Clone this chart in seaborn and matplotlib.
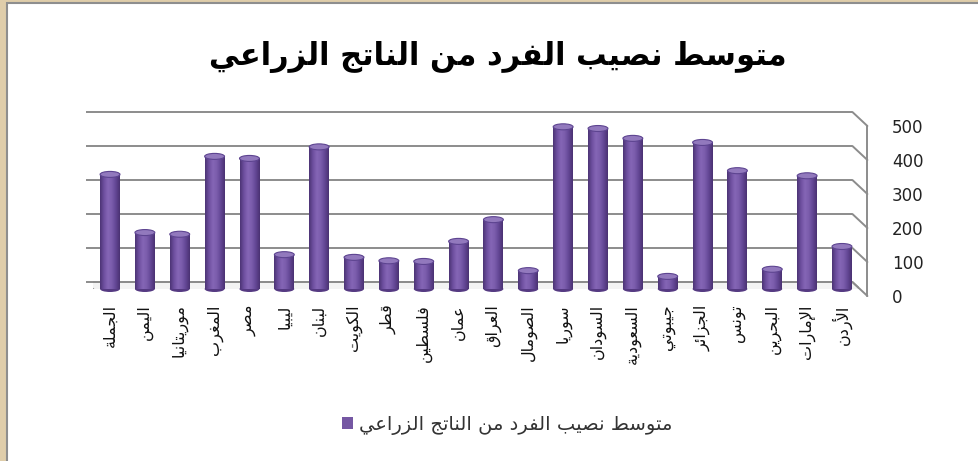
import matplotlib
matplotlib.use("Agg")
import matplotlib.pyplot as plt
import matplotlib.transforms as mtrans
from matplotlib.patches import Rectangle, Polygon, Ellipse
from matplotlib.colors import LinearSegmentedColormap
import numpy as np
import pandas as pd
import seaborn as sns

# ---- data -------------------------------------------------------------
title_text = "متوسط نصيب الفرد من الناتج الزراعي"
series_name = "متوسط نصيب الفرد من الناتج الزراعي"
countries = ["الجملة", "اليمن", "موريتانيا", "المغرب", "مصر", "ليبيا", "لبنان",
             "الكويت", "قطر", "فلسطين", "عمان", "العراق", "الصومال", "سوريا",
             "السودان", "السعودية", "جيبوتي", "الجزائر", "تونس", "البحرين",
             "الإمارات", "الأردن"]
values = [337, 166, 161, 390, 384, 101, 418, 93, 83, 81, 140, 204, 54, 477,
          472, 443, 37, 431, 348, 58, 333, 125]
y_ticks = [0, 100, 200, 300, 400, 500]

# ---- minimal Arabic shaping (contextual forms + visual order) ------------
_DUAL = {0x626: 0xFE89, 0x628: 0xFE8F, 0x62A: 0xFE95, 0x62B: 0xFE99,
         0x62C: 0xFE9D, 0x62D: 0xFEA1, 0x62E: 0xFEA5, 0x633: 0xFEB1,
         0x634: 0xFEB5, 0x635: 0xFEB9, 0x636: 0xFEBD, 0x637: 0xFEC1,
         0x638: 0xFEC5, 0x639: 0xFEC9, 0x63A: 0xFECD, 0x641: 0xFED1,
         0x642: 0xFED5, 0x643: 0xFED9, 0x644: 0xFEDD, 0x645: 0xFEE1,
         0x646: 0xFEE5, 0x647: 0xFEE9, 0x64A: 0xFEF1}
_RIGHT = {0x622: 0xFE81, 0x623: 0xFE83, 0x624: 0xFE85, 0x625: 0xFE87,
          0x627: 0xFE8D, 0x629: 0xFE93, 0x62F: 0xFEA9, 0x630: 0xFEAB,
          0x631: 0xFEAD, 0x632: 0xFEAF, 0x648: 0xFEED, 0x649: 0xFEEF}
_LAMALEF = {0x622: 0xFEF5, 0x623: 0xFEF7, 0x625: 0xFEF9, 0x627: 0xFEFB}


def shape(text):
    units, i = [], 0
    while i < len(text):
        c = ord(text[i])
        if c == 0x644 and i + 1 < len(text) and ord(text[i + 1]) in _LAMALEF:
            units.append(("LA", ord(text[i + 1])))
            i += 2
        else:
            units.append(("C", c))
            i += 1

    def jtype(u):
        kind, c = u
        if kind == "LA":
            return "R"
        if c in _DUAL:
            return "D"
        if c in _RIGHT:
            return "R"
        return "U"

    out = []
    for k, u in enumerate(units):
        t = jtype(u)
        prev_j = k > 0 and jtype(units[k - 1]) == "D" and t in "DR"
        next_j = k + 1 < len(units) and t == "D" and jtype(units[k + 1]) in "DR"
        kind, c = u
        if kind == "LA":
            out.append(chr(_LAMALEF[c] + (1 if prev_j else 0)))
        elif t == "D":
            off = 3 if (prev_j and next_j) else 1 if prev_j else 2 if next_j else 0
            out.append(chr(_DUAL[c] + off))
        elif t == "R":
            out.append(chr(_RIGHT[c] + (1 if prev_j else 0)))
        else:
            out.append(chr(c))
    return "".join(reversed(out))


# ---- figure --------------------------------------------------------------
W, H = 979, 461
fig = plt.figure(figsize=(W / 100, H / 100), dpi=100)
fig.patch.set_facecolor("#dfcdaa")
sns.set_style("white")
plt.rcParams["font.family"] = ["DejaVu Sans"]

# white chart panel
panel = Rectangle((7 / W, -0.01), 1.0, 1 - 3 / H + 0.01, transform=fig.transFigure,
                  facecolor="white", edgecolor="#8e8e8e", linewidth=1.5, zorder=-1)
fig.patches.append(panel)

# plot area (bar plane)
left_px, right_px = 92.6, 859.4
zero_px, px_per_unit = 289.0, 0.34
ymax = 540
ax = fig.add_axes([left_px / W, (H - zero_px) / H, (right_px - left_px) / W,
                   ymax * px_per_unit / H])
ax.set_facecolor("none")
ax.set_zorder(1)

df = pd.DataFrame({"country": countries, "value": values})
bar_color = "#7557a3"
sns.barplot(data=df, x="country", y="value", order=countries, color=bar_color,
            width=0.57, saturation=1, ax=ax, label=shape(series_name), zorder=3)
bars = list(ax.containers[0])
if ax.get_legend() is not None:
    ax.get_legend().remove()
ax.set_xlim(-0.5, len(countries) - 0.5)
ax.set_ylim(0, ymax)
for s in ax.spines.values():
    s.set_visible(False)
ax.set_xlabel("")
ax.set_ylabel("")
ax.set_yticks([])

# pseudo-3D walls
blend = mtrans.blended_transform_factory(ax.transAxes, ax.transData)


def shifted(dx, dy):
    return blend + mtrans.ScaledTranslation(dx / 100, dy / 100, fig.dpi_scale_trans)


back = shifted(-7, 7)
front = shifted(8, -7)
grid_c = "#8c8c8c"

floor_pts = np.array([back.transform((0, 0)), back.transform((1, 0)),
                      front.transform((1, 0)), front.transform((0, 0))])
floor = Polygon(floor_pts, closed=True, transform=None, facecolor="#f3f3f3",
                edgecolor=grid_c, linewidth=1.3, zorder=1)
ax.add_artist(floor)

for v in y_ticks:
    ax.plot([0, 1], [v, v], transform=back, color=grid_c, lw=1.4, zorder=1.5,
            clip_on=False, solid_capstyle="butt")
    p0 = back.transform((1, v))
    p1 = front.transform((1, v))
    ax.plot([p0[0], p1[0]], [p0[1], p1[1]], transform=None, color=grid_c,
            lw=1.4, zorder=1.5, clip_on=False)
pt = front.transform((1, y_ticks[-1]))
pb = front.transform((1, 0))
ax.plot([pt[0], pb[0]], [pt[1], pb[1]], transform=None, color=grid_c, lw=1.4,
        zorder=1.5, clip_on=False)

# cylinder shading on each bar
cyl = LinearSegmentedColormap.from_list(
    "cyl", ["#4c3475", "#6e50a0", "#8566b6", "#7a5cab", "#624694", "#4a3272"])
grad = np.linspace(0, 1, 64).reshape(1, -1)
cap_h = 6 / px_per_unit
for bar in bars:
    x0, w, h = bar.get_x(), bar.get_width(), bar.get_height()
    bar.set_zorder(3)
    bar.set_edgecolor("none")
    bottom = Ellipse((x0 + w / 2, 0), w, cap_h, facecolor="#553a82",
                     edgecolor="none", zorder=2.9, clip_on=False)
    ax.add_patch(bottom)
    im = ax.imshow(grad, extent=(x0, x0 + w, 0, h), cmap=cyl, aspect="auto",
                   zorder=3.1, interpolation="bilinear")
    im.set_clip_path(bar)
    top = Ellipse((x0 + w / 2, h), w, cap_h, facecolor="#9279bd",
                  edgecolor="#5d4490", linewidth=0.8, zorder=3.2, clip_on=False)
    ax.add_patch(top)
ax.set_xlim(-0.5, len(countries) - 0.5)
ax.set_ylim(0, ymax)

# category labels
ax.set_xticks(range(len(countries)))
ax.set_xticklabels([shape(c) for c in countries], rotation=90, va="top",
                   ha="center", fontsize=11.5, color="#111111")
ax.tick_params(axis="x", length=0, pad=11)

# value axis labels on the right
lab_tr = shifted(32.6, -9)
for v in y_ticks:
    ax.text(1, v, str(v), transform=lab_tr, ha="left", va="center",
            fontsize=12, color="#222222")

# title
fig.text(0.509, 1 - 57 / H, shape(title_text), ha="center", va="center",
         fontsize=22, fontweight="bold", color="#000000")

# legend
handles, labels = ax.get_legend_handles_labels()
fig.legend(handles[:1], labels[:1], loc="center", bbox_to_anchor=(0.518, 1 - 425 / H),
           frameon=False, fontsize=14, handlelength=0.55, handleheight=0.55,
           handletextpad=0.3, labelcolor="#333333")

fig.savefig("out.png", dpi=100)
